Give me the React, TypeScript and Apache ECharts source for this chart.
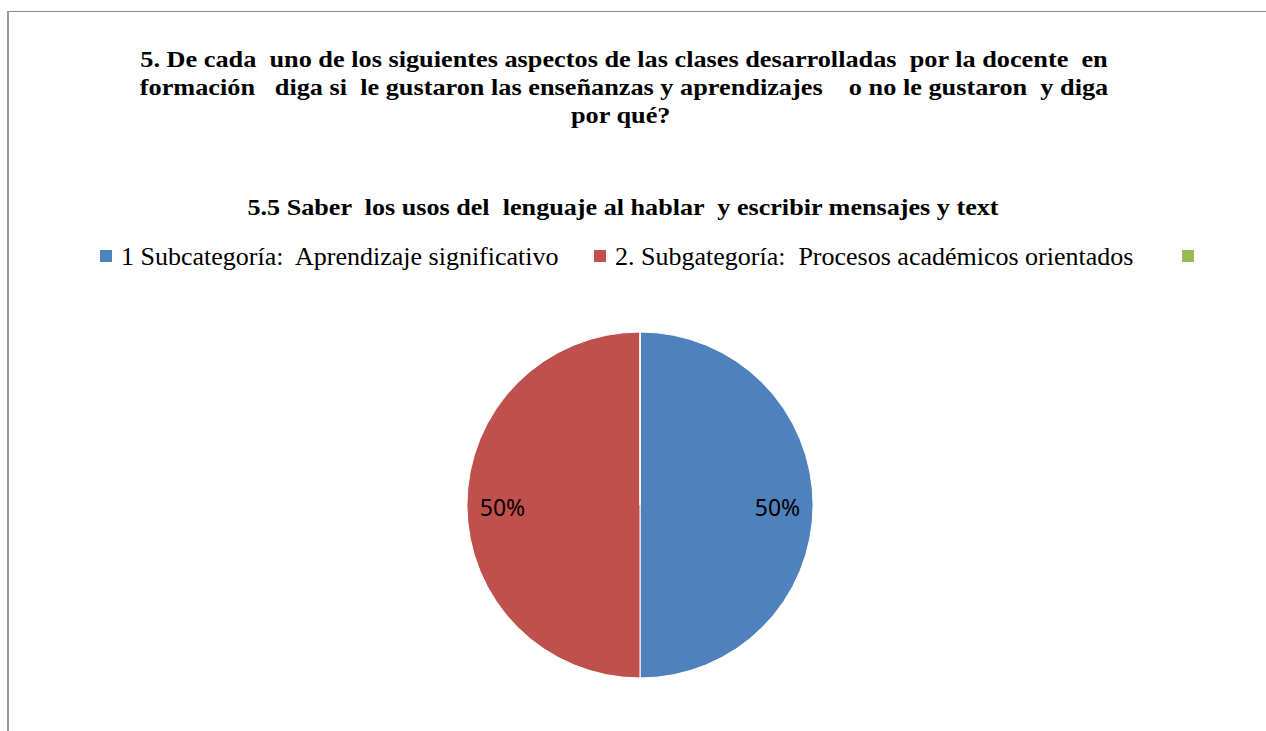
import React, { useEffect, useRef } from "react";
import * as echarts from "echarts";

const titleLines = [
  "5. De cada  uno de los siguientes aspectos de las clases desarrolladas  por la docente  en",
  "formación   diga si  le gustaron las enseñanzas y aprendizajes    o no le gustaron  y diga",
  "por qué? ",
];
const subtitle = "5.5 Saber  los usos del  lenguaje al hablar  y escribir mensajes y text";
const categories = [
  "1 Subcategoría:  Aprendizaje significativo",
  "2. Subgategoría:  Procesos académicos orientados",
  " ",
];
const values = [50, 50, 0];
const colors = ["#4F81BD", "#C0504D", "#9BBB59"];

export default function App() {
  const ref = useRef<HTMLDivElement>(null);
  useEffect(() => {
    const chart = echarts.init(ref.current!, null, { renderer: "svg" });
    const serif = "Liberation Serif";
    const legendLefts = [95, 589, 1177];
    chart.setOption({
      animation: false,
      color: colors,
      graphic: [
        {
          type: "rect",
          shape: { x: 7.5, y: 11.5, width: 1400, height: 900 },
          style: { fill: "none", stroke: "#8a8a8a", lineWidth: 1 },
          silent: true,
        },
        {
          type: "line",
          shape: { x1: 8, y1: 11, x2: 8, y2: 731 },
          style: { stroke: "#9a9a9a", lineWidth: 2 },
          silent: true,
        },
        {
          type: "text",
          x: 624,
          y: 45,
          scaleX: 1.095,
          style: {
            text: titleLines.join("\n"),
            fontFamily: serif,
            fontWeight: "bold",
            fontSize: 24,
            fill: "#000",
            align: "center",
            verticalAlign: "top",
            lineHeight: 28,
          },
        },
        {
          type: "text",
          x: 623,
          y: 207,
          scaleX: 1.09,
          style: {
            text: subtitle,
            fontFamily: serif,
            fontWeight: "bold",
            fontSize: 24,
            fill: "#000",
            align: "center",
            verticalAlign: "middle",
          },
        },
      ],
      legend: categories.map((c, i) => ({
        data: [c],
        left: legendLefts[i],
        top: 238,
        icon: "rect",
        itemWidth: 12,
        itemHeight: 12,
        selectedMode: false,
        itemStyle: { borderWidth: 0 },
        textStyle: {
          fontFamily: serif,
          fontSize: 26,
          color: "#000",
          padding: [0, 0, 0, 4],
        },
      })),
      series: [
        {
          type: "pie",
          center: [640, 505],
          radius: [0, 173],
          startAngle: 90,
          clockwise: true,
          silent: true,
          label: { show: false },
          labelLine: { show: false },
          itemStyle: { borderColor: "#fff", borderWidth: 1 },
          data: categories.map((n, i) => ({ name: n, value: values[i] })),
        },
        {
          type: "pie",
          center: [640, 505],
          radius: [96, 173],
          startAngle: 90,
          clockwise: true,
          silent: true,
          avoidLabelOverlap: false,
          itemStyle: { color: "rgba(0,0,0,0)" },
          label: {
            show: true,
            position: "inside",
            formatter: "{d}%",
            fontFamily: "Noto Sans",
            fontSize: 23,
            color: "#000",
            offset: [0, 2],
          },
          labelLine: { show: false },
          data: categories.map((n, i) => ({
            name: n,
            value: values[i],
            label: { show: values[i] > 0 },
          })),
        },
      ],
    });
    return () => chart.dispose();
  }, []);
  return (
    <div
      ref={ref}
      style={{ position: "fixed", left: 0, top: 0, width: 1266, height: 731, background: "#fff" }}
    />
  );
}
